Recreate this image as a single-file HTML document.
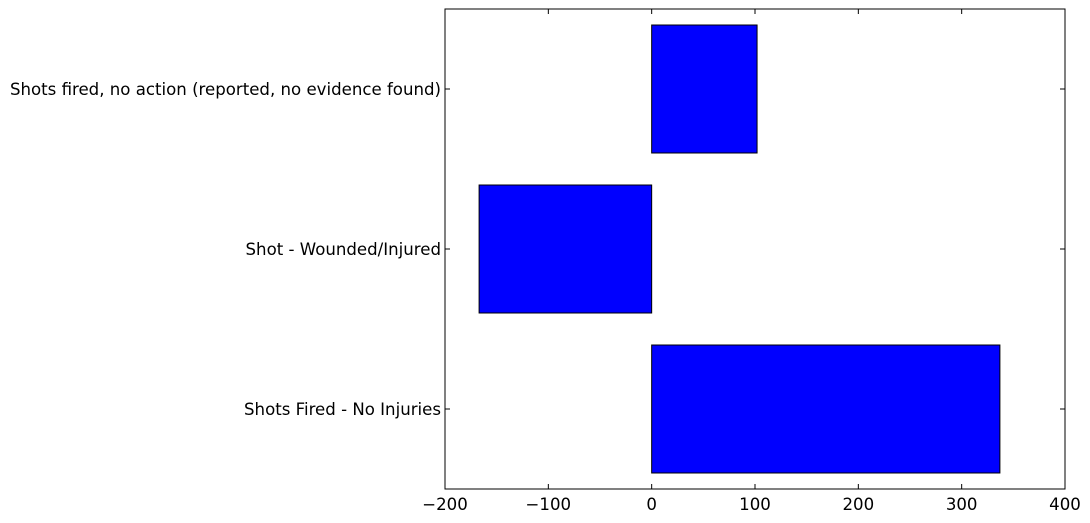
<!DOCTYPE html>
<html><head><meta charset="utf-8"><style>
body{margin:0;background:#fff;}
svg{display:block;font-family:"DejaVu Sans","Liberation Sans",sans-serif;}
</style></head><body>
<svg id="chart" width="1090" height="523"></svg>
<script>
const categories = ["Shots Fired - No Injuries","Shot - Wounded/Injured","Shots fired, no action (reported, no evidence found)"];
const values = [337, -167, 102];
const xTicks = [-200,-100,0,100,200,300,400];
const xTickLabels = ["\u2212200","\u2212100","0","100","200","300","400"];

const L=445,R=1065,T=9,B=489;
const xMin=-200,xMax=400,yMin=-0.5,yMax=2.5;
const sx=v=>L+(v-xMin)/(xMax-xMin)*(R-L);
const sy=v=>B-(v-yMin)/(yMax-yMin)*(B-T);
const NS="http://www.w3.org/2000/svg";
const svg=document.getElementById('chart');
function mk(tag,attrs){const e=document.createElementNS(NS,tag);for(const k in attrs)e.setAttribute(k,attrs[k]);svg.appendChild(e);return e;}

values.forEach((v,i)=>{
  const x0=sx(Math.min(0,v)),x1=sx(Math.max(0,v));
  const y0=sy(i+0.4),y1=sy(i-0.4);
  const r=mk('rect',{x:x0,y:y0,width:x1-x0,height:y1-y0,fill:'#0000ff',stroke:'#000','stroke-width':1});
  
  
});

const frame=mk('rect',{x:L,y:T,width:R-L,height:B-T,fill:'none',stroke:'#000','stroke-width':1});



xTicks.forEach((t,i)=>{
  const x=sx(t);
  mk('line',{x1:x,x2:x,y1:B,y2:B-5,stroke:'#000'});
  mk('line',{x1:x,x2:x,y1:T,y2:T+5,stroke:'#000'});
  const tx=mk('text',{x:x,y:510,'text-anchor':'middle','font-size':16.6,fill:'#000'});
  tx.textContent=xTickLabels[i];
  
  
});

categories.forEach((c,i)=>{
  const y=sy(i);
  mk('line',{x1:L,x2:L+5,y1:y,y2:y,stroke:'#000'});
  mk('line',{x1:R,x2:R-5,y1:y,y2:y,stroke:'#000'});
  const tx=mk('text',{x:L-4,y:y+6,'text-anchor':'end','font-size':16.6,fill:'#000'});
  tx.textContent=c;
  
  
});
</script>
</body></html>
